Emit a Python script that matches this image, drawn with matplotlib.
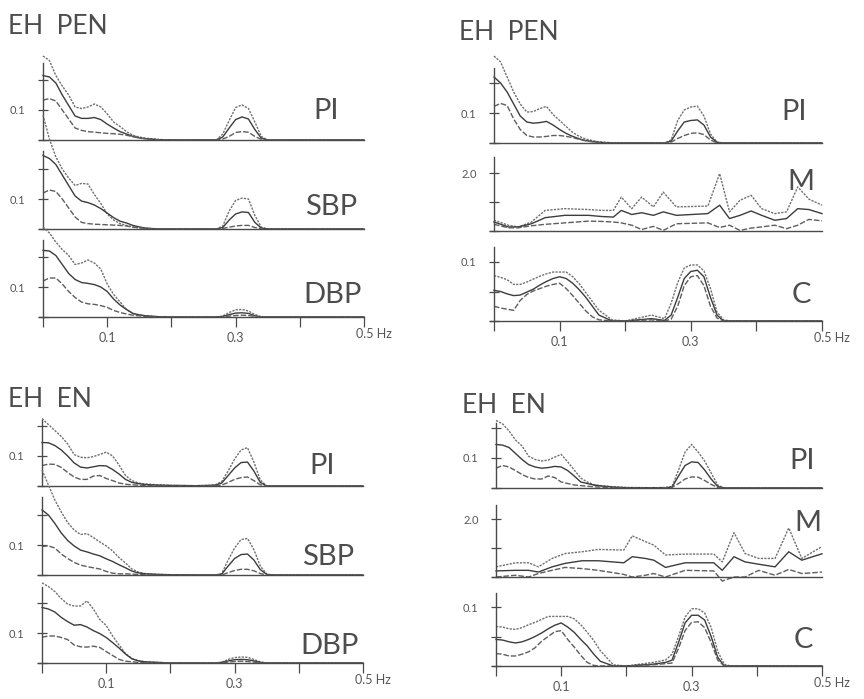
import matplotlib.pyplot as plt

plt.rcParams['font.family'] = ['Lato', 'DejaVu Sans']

# frequency grid (Hz) shared by the PI / SBP / DBP / C spectra
FREQ = [0, .01, .02, .03, .04, .05, .06, .07, .08, .09, .10, .11, .12, .13, .14, .15, .16, .18, .20,
        .24, .26, .27, .28, .29, .30, .31, .32, .33, .34, .35, .36, .40, .45, .50]

# EH PEN, left: PI, SBP, DBP  (mean + SD, mean, mean - SD)
pen_pi_hi = [0.28, 0.265, 0.215, 0.18, 0.15, 0.11, 0.105, 0.11, 0.12, 0.11, 0.087, 0.06, 0.045, 0.028, 0.016, 0.01, 0.006, 0.002, 0,
             0, 0, 0, 0.02, 0.065, 0.108, 0.117, 0.105, 0.06, 0.012, 0, 0, 0, 0, 0]
pen_pi_mid = [0.215, 0.21, 0.19, 0.15, 0.115, 0.08, 0.072, 0.072, 0.075, 0.068, 0.053, 0.04, 0.028, 0.02, 0.012, 0.007, 0.004, 0.001, 0,
              0, 0, 0, 0.01, 0.04, 0.068, 0.077, 0.07, 0.035, 0.006, 0, 0, 0, 0, 0]
pen_pi_lo = [0.133, 0.138, 0.13, 0.1, 0.07, 0.04, 0.032, 0.028, 0.026, 0.024, 0.022, 0.021, 0.019, 0.016, 0.011, 0.007, 0.004, 0.001, 0,
             0, 0, 0, 0.003, 0.012, 0.025, 0.028, 0.026, 0.012, 0.002, 0, 0, 0, 0, 0]

pen_sbp_hi = [0.38, 0.30, 0.24, 0.2, 0.17, 0.145, 0.152, 0.15, 0.115, 0.085, 0.05, 0.03, 0.018, 0.012, 0.007, 0.004, 0.002, 0, 0,
              0, 0, 0, 0.01, 0.06, 0.095, 0.103, 0.1, 0.045, 0.006, 0, 0, 0, 0, 0]
pen_sbp_mid = [0.245, 0.235, 0.215, 0.18, 0.145, 0.11, 0.093, 0.088, 0.08, 0.068, 0.053, 0.038, 0.026, 0.02, 0.012, 0.007, 0.003, 0, 0,
               0, 0, 0, 0.005, 0.03, 0.05, 0.057, 0.055, 0.022, 0.003, 0, 0, 0, 0, 0]
pen_sbp_lo = [0.12, 0.13, 0.125, 0.1, 0.07, 0.04, 0.022, 0.018, 0.016, 0.015, 0.014, 0.013, 0.012, 0.01, 0.006, 0.004, 0.002, 0, 0,
              0, 0, 0, 0.002, 0.006, 0.01, 0.012, 0.012, 0.005, 0.001, 0, 0, 0, 0, 0]

pen_dbp_hi = [0.30, 0.28, 0.25, 0.225, 0.205, 0.175, 0.18, 0.19, 0.18, 0.16, 0.11, 0.075, 0.05, 0.025, 0.012, 0.007, 0.004, 0.001, 0,
              0, 0, 0, 0.003, 0.015, 0.024, 0.025, 0.02, 0.008, 0.001, 0, 0, 0, 0, 0]
pen_dbp_mid = [0.222, 0.22, 0.205, 0.175, 0.145, 0.125, 0.115, 0.112, 0.108, 0.1, 0.085, 0.06, 0.04, 0.025, 0.012, 0.007, 0.004, 0.001, 0,
               0, 0, 0, 0.002, 0.008, 0.013, 0.014, 0.012, 0.004, 0, 0, 0, 0, 0, 0]
pen_dbp_lo = [0.12, 0.13, 0.13, 0.11, 0.085, 0.065, 0.05, 0.044, 0.042, 0.038, 0.032, 0.022, 0.015, 0.01, 0.006, 0.004, 0.002, 0, 0,
              0, 0, 0, 0, 0.003, 0.005, 0.006, 0.005, 0.002, 0, 0, 0, 0, 0, 0]

# EH PEN, right: PI, M, C
penr_pi_hi = [0.29, 0.27, 0.22, 0.17, 0.13, 0.103, 0.105, 0.115, 0.122, 0.095, 0.075, 0.055, 0.035, 0.022, 0.013, 0.008, 0.004, 0.001, 0,
              0, 0, 0.01, 0.075, 0.11, 0.12, 0.123, 0.09, 0.03, 0.003, 0, 0, 0, 0, 0]
penr_pi_mid = [0.22, 0.2, 0.17, 0.13, 0.09, 0.07, 0.066, 0.068, 0.072, 0.06, 0.045, 0.032, 0.022, 0.014, 0.008, 0.005, 0.002, 0, 0,
               0, 0, 0.006, 0.04, 0.07, 0.075, 0.077, 0.06, 0.02, 0.002, 0, 0, 0, 0, 0]
penr_pi_lo = [0.122, 0.132, 0.125, 0.08, 0.045, 0.025, 0.02, 0.02, 0.022, 0.025, 0.025, 0.022, 0.018, 0.012, 0.007, 0.004, 0.002, 0, 0,
              0, 0, 0.003, 0.015, 0.025, 0.032, 0.034, 0.028, 0.01, 0, 0, 0, 0, 0, 0]

PEN_M_FREQ = [0, 0.022, 0.037, 0.057, 0.078, 0.108, 0.144, 0.164, 0.182, 0.194, 0.21, 0.225, 0.243,
              0.258, 0.278, 0.326, 0.344, 0.359, 0.375, 0.392, 0.408, 0.428, 0.446, 0.463, 0.48, 0.5]
penr_m_hi = [0.37, 0.2, 0.14, 0.31, 0.71, 0.77, 0.74, 0.71, 0.71, 1.17, 0.77, 1.17, 0.83,
             1.34, 0.83, 0.86, 1.98, 0.66, 1.06, 1.23, 0.77, 0.6, 0.66, 1.52, 1.1, 0.89]
penr_m_mid = [0.31, 0.14, 0.14, 0.25, 0.46, 0.54, 0.54, 0.5, 0.48, 0.71, 0.57, 0.63, 0.54,
              0.66, 0.54, 0.6, 0.89, 0.43, 0.54, 0.69, 0.54, 0.37, 0.43, 0.77, 0.74, 0.6]
penr_m_lo = [0.23, 0.11, 0.11, 0.18, 0.23, 0.28, 0.34, 0.33, 0.31, 0.28, 0.2, 0.05, 0.16,
             0.02, 0.25, 0.28, 0.12, 0.2, 0.02, 0.1, 0.14, 0.2, 0.08, 0.2, 0.4, 0.35]

penr_c_hi = [0.077, 0.074, 0.07, 0.062, 0.062, 0.066, 0.071, 0.076, 0.08, 0.083, 0.083, 0.083, 0.075, 0.063, 0.048, 0.033, 0.018, 0.002, 0,
             0.01, 0.004, 0.03, 0.065, 0.09, 0.095, 0.095, 0.085, 0.055, 0.015, 0.002, 0, 0, 0, 0]
penr_c_mid = [0.052, 0.05, 0.046, 0.043, 0.044, 0.049, 0.054, 0.061, 0.067, 0.072, 0.075, 0.072, 0.064, 0.053, 0.04, 0.025, 0.01, 0, 0,
              0.004, 0.001, 0.01, 0.04, 0.072, 0.084, 0.086, 0.075, 0.04, 0.01, 0, 0, 0, 0, 0]
penr_c_lo = [0.025, 0.022, 0.02, 0.018, 0.035, 0.045, 0.051, 0.055, 0.059, 0.062, 0.064, 0.055, 0.043, 0.03, 0.017, 0.007, 0.002, 0, 0,
             0.002, 0, 0.003, 0.025, 0.06, 0.075, 0.077, 0.06, 0.025, 0.005, 0, 0, 0, 0, 0]

# EH EN, left: PI, SBP, DBP
en_pi_hi = [0.225, 0.205, 0.185, 0.165, 0.14, 0.105, 0.096, 0.094, 0.098, 0.105, 0.113, 0.1, 0.07, 0.035, 0.018, 0.01, 0.007, 0.004, 0.002,
            0.001, 0.002, 0.004, 0.015, 0.05, 0.09, 0.12, 0.128, 0.08, 0.02, 0, 0, 0, 0, 0]
en_pi_mid = [0.145, 0.144, 0.135, 0.12, 0.1, 0.077, 0.063, 0.06, 0.064, 0.068, 0.067, 0.055, 0.04, 0.022, 0.012, 0.008, 0.005, 0.003, 0.002,
             0.001, 0.002, 0.003, 0.01, 0.035, 0.06, 0.078, 0.08, 0.05, 0.012, 0, 0, 0, 0, 0]
en_pi_lo = [0.068, 0.073, 0.072, 0.062, 0.045, 0.03, 0.022, 0.022, 0.033, 0.035, 0.025, 0.018, 0.01, 0.006, 0.004, 0.003, 0.002, 0.001, 0,
            0, 0.001, 0.001, 0.003, 0.012, 0.022, 0.028, 0.03, 0.018, 0.004, 0, 0, 0, 0, 0]

en_sbp_hi = [0.35, 0.3, 0.25, 0.21, 0.175, 0.15, 0.135, 0.138, 0.125, 0.11, 0.097, 0.08, 0.058, 0.04, 0.02, 0.01, 0.005, 0.002, 0.001,
             0, 0, 0, 0.005, 0.05, 0.09, 0.118, 0.122, 0.085, 0.03, 0.003, 0, 0, 0, 0]
en_sbp_mid = [0.217, 0.2, 0.172, 0.14, 0.115, 0.097, 0.083, 0.077, 0.07, 0.064, 0.054, 0.045, 0.034, 0.024, 0.013, 0.007, 0.004, 0.002, 0.001,
              0, 0, 0, 0.003, 0.03, 0.055, 0.068, 0.07, 0.05, 0.018, 0.002, 0, 0, 0, 0]
en_sbp_lo = [0.095, 0.097, 0.09, 0.07, 0.055, 0.042, 0.033, 0.028, 0.024, 0.02, 0.012, 0.006, 0.004, 0.004, 0.003, 0.002, 0.001, 0, 0,
             0, 0, 0, 0, 0.008, 0.015, 0.019, 0.019, 0.014, 0.005, 0, 0, 0, 0, 0]

en_dbp_hi = [0.267, 0.255, 0.238, 0.215, 0.196, 0.19, 0.19, 0.207, 0.18, 0.145, 0.125, 0.09, 0.06, 0.032, 0.015, 0.008, 0.004, 0.002, 0,
             0, 0, 0, 0.003, 0.012, 0.018, 0.02, 0.019, 0.012, 0.004, 0, 0, 0, 0, 0]
en_dbp_mid = [0.185, 0.18, 0.17, 0.152, 0.138, 0.126, 0.128, 0.12, 0.108, 0.098, 0.085, 0.068, 0.05, 0.03, 0.014, 0.007, 0.004, 0.002, 0,
              0, 0, 0, 0.002, 0.007, 0.011, 0.012, 0.011, 0.007, 0.002, 0, 0, 0, 0, 0]
en_dbp_lo = [0.086, 0.09, 0.09, 0.085, 0.078, 0.06, 0.054, 0.053, 0.056, 0.052, 0.038, 0.025, 0.012, 0.006, 0.004, 0.002, 0.001, 0, 0,
             0, 0, 0, 0.001, 0.003, 0.005, 0.006, 0.005, 0.003, 0.001, 0, 0, 0, 0, 0]

# EH EN, right: PI, M, C
enr_pi_hi = [0.225, 0.214, 0.19, 0.16, 0.14, 0.106, 0.095, 0.09, 0.093, 0.103, 0.112, 0.087, 0.06, 0.033, 0.02, 0.011, 0.008, 0.004, 0.002,
             0.001, 0.002, 0.005, 0.06, 0.12, 0.145, 0.12, 0.09, 0.05, 0.01, 0, 0, 0, 0, 0]
enr_pi_mid = [0.145, 0.143, 0.135, 0.115, 0.095, 0.078, 0.07, 0.066, 0.068, 0.072, 0.07, 0.058, 0.04, 0.02, 0.015, 0.01, 0.007, 0.003, 0.001,
              0.001, 0.001, 0.003, 0.04, 0.075, 0.087, 0.085, 0.06, 0.03, 0.005, 0, 0, 0, 0, 0]
enr_pi_lo = [0.066, 0.075, 0.07, 0.058, 0.045, 0.035, 0.03, 0.03, 0.04, 0.035, 0.02, 0.015, 0.01, 0.008, 0.006, 0.004, 0.003, 0.001, 0,
             0, 0.001, 0.002, 0.015, 0.03, 0.037, 0.036, 0.025, 0.012, 0.002, 0, 0, 0, 0, 0]

EN_M_FREQ = [0, 0.03, 0.05, 0.065, 0.086, 0.106, 0.132, 0.157, 0.196, 0.209, 0.229, 0.242,
             0.26, 0.29, 0.334, 0.347, 0.365, 0.382, 0.403, 0.428, 0.449, 0.469, 0.5]
enr_m_hi = [0.35, 0.49, 0.49, 0.35, 0.64, 0.81, 0.87, 0.95, 0.93, 1.42, 1.22, 1.1,
            0.76, 0.79, 0.79, 0.52, 1.53, 0.81, 0.64, 0.64, 1.69, 0.64, 1.05]
enr_m_mid = [0.21, 0.23, 0.23, 0.17, 0.35, 0.47, 0.56, 0.56, 0.49, 0.7, 0.64, 0.58,
             0.33, 0.49, 0.49, 0.23, 0.7, 0.52, 0.44, 0.35, 0.87, 0.58, 0.8]
enr_m_lo = [0.0, 0.06, 0.0, 0.12, 0.23, 0.33, 0.29, 0.23, 0.09, 0.0, 0.06, 0.12,
            0.0, 0.23, 0.21, -0.14, 0.0, 0.0, 0.23, 0.06, 0.26, 0.12, 0.17]

enr_c_hi = [0.067, 0.066, 0.063, 0.062, 0.065, 0.07, 0.074, 0.079, 0.084, 0.084, 0.084, 0.084, 0.08, 0.07, 0.057, 0.043, 0.026, 0.002, 0,
            0.006, 0.01, 0.02, 0.05, 0.083, 0.097, 0.097, 0.09, 0.065, 0.025, 0.003, 0, 0, 0, 0]
enr_c_mid = [0.045, 0.044, 0.041, 0.039, 0.041, 0.045, 0.05, 0.056, 0.063, 0.069, 0.073, 0.066, 0.057, 0.045, 0.034, 0.02, 0.008, 0, 0,
             0.003, 0.006, 0.01, 0.04, 0.073, 0.086, 0.086, 0.078, 0.05, 0.015, 0, 0, 0, 0, 0]
enr_c_lo = [0.021, 0.02, 0.017, 0.017, 0.02, 0.024, 0.031, 0.042, 0.05, 0.058, 0.06, 0.045, 0.032, 0.018, 0.006, 0.001, 0, 0, 0,
            0.002, 0.004, 0.005, 0.03, 0.06, 0.074, 0.075, 0.065, 0.04, 0.01, 0, 0, 0, 0, 0]


W, H = 864, 699
INK = '#4d4d4d'
AXC = '#4a4a4a'
STYLES = [dict(color='#707070', ls=(0, (1.6, 0.9)), lw=1.0),   # mean + SD
          dict(color='#3c3c3c', ls='-', lw=1.0),               # mean
          dict(color='#5e5e5e', ls=(0, (4, 1.4)), lw=1.0)]     # mean - SD

# px per data unit on y for each kind of trace
PPU = {'PI': 300, 'SBP': 300, 'DBP': 300, 'M': 29, 'C': 590}
YTICKS = {'PI': ([0, 0.1, 0.2], ['', '0.1', '']),
          'SBP': ([0, 0.1, 0.2], ['', '0.1', '']),
          'DBP': ([0, 0.1, 0.2], ['', '0.1', '']),
          'M': ([0, 1.0, 2.0], ['', '', '2.0']),
          'C': ([0, 0.05, 0.1], ['', '', '0.1'])}


def add_row(fig, kind, freq, curves, x0, x1, base, top, last):
    ppx = (x1 - x0) / 0.5
    ppu = PPU[kind]
    below = 16
    ax = fig.add_axes([(x0 - 10) / W, 1 - (base + below) / H,
                       (x1 - x0 + 14) / W, (base + below - top) / H])
    ax.set_xlim(-10 / ppx, 0.5 + 4 / ppx)
    ax.set_ylim(-below / ppu, (base - top) / ppu)
    ax.patch.set_alpha(0)
    for s in ['top', 'right']:
        ax.spines[s].set_visible(False)
    ax.spines['left'].set_position(('data', 0))
    ax.spines['bottom'].set_position(('data', 0))
    ax.spines['left'].set_bounds(0, (base - top) / ppu)
    ax.spines['bottom'].set_bounds(-4 / ppx, 0.5)
    for s in ['left', 'bottom']:
        ax.spines[s].set_color(AXC)
        ax.spines[s].set_linewidth(1.0)

    for vals, st in zip(curves, STYLES):
        ax.plot(freq, vals, clip_on=False, **st)

    ticks, labels = YTICKS[kind]
    ax.set_yticks(ticks, labels)
    ax.tick_params(axis='y', direction='inout', length=7, width=0.9, color=AXC,
                   labelsize=8, labelcolor='#555555', pad=9)
    if last:
        ax.set_xticks([0, 0.1, 0.2, 0.3, 0.4, 0.5], ['', '0.1', '', '0.3', '', ''])
        ax.tick_params(axis='x', direction='out', length=7, width=0.9, color=AXC,
                       labelsize=9, labelcolor='#555555', pad=4)
        ax.annotate('0.5 Hz', xy=(0.5, 0), xytext=(-8, -11), textcoords='offset pixels',
                    ha='left', va='top', fontsize=9, color='#555555', annotation_clip=False)
    else:
        ax.set_xticks([])
    return ax


fig = plt.figure(figsize=(8.64, 6.99), dpi=100)

panels = [
    ('EH  PEN', (8, 34), 43, 364, [140, 229, 317], [63, 151, 240],
     [('PI', FREQ, [pen_pi_hi, pen_pi_mid, pen_pi_lo], (326, 111)),
      ('SBP', FREQ, [pen_sbp_hi, pen_sbp_mid, pen_sbp_lo], (331, 207)),
      ('DBP', FREQ, [pen_dbp_hi, pen_dbp_mid, pen_dbp_lo], (333, 295))]),
    ('EH  PEN', (459, 40), 494, 822, [143, 231, 321], [68, 157, 247],
     [('PI', FREQ, [penr_pi_hi, penr_pi_mid, penr_pi_lo], (794, 112)),
      ('M', PEN_M_FREQ, [penr_m_hi, penr_m_mid, penr_m_lo], (801, 182)),
      ('C', FREQ, [penr_c_hi, penr_c_mid, penr_c_lo], (801, 295))]),
    ('EH  EN', (8, 407), 42, 363, [486, 575, 663], [420, 497, 587],
     [('PI', FREQ, [en_pi_hi, en_pi_mid, en_pi_lo], (322, 466)),
      ('SBP', FREQ, [en_sbp_hi, en_sbp_mid, en_sbp_lo], (328, 557)),
      ('DBP', FREQ, [en_dbp_hi, en_dbp_mid, en_dbp_lo], (330, 646))]),
    ('EH  EN', (462, 413), 496, 822, [488, 577, 666], [423, 505, 593],
     [('PI', FREQ, [enr_pi_hi, enr_pi_mid, enr_pi_lo], (802, 461)),
      ('M', EN_M_FREQ, [enr_m_hi, enr_m_mid, enr_m_lo], (808, 523)),
      ('C', FREQ, [enr_c_hi, enr_c_mid, enr_c_lo], (803, 640))]),
]

for title, (tx, ty), x0, x1, bases, tops, rows in panels:
    fig.text(tx / W, 1 - ty / H, title, fontsize=19, color=INK, ha='left', va='baseline')
    for i, (kind, freq, curves, (lx, ly)) in enumerate(rows):
        add_row(fig, kind, freq, curves, x0, x1, bases[i], tops[i], i == len(rows) - 1)
        fig.text(lx / W, 1 - ly / H, kind, fontsize=21, color=INK, ha='center', va='center')

fig.savefig('out.png', dpi=100, facecolor='white')
